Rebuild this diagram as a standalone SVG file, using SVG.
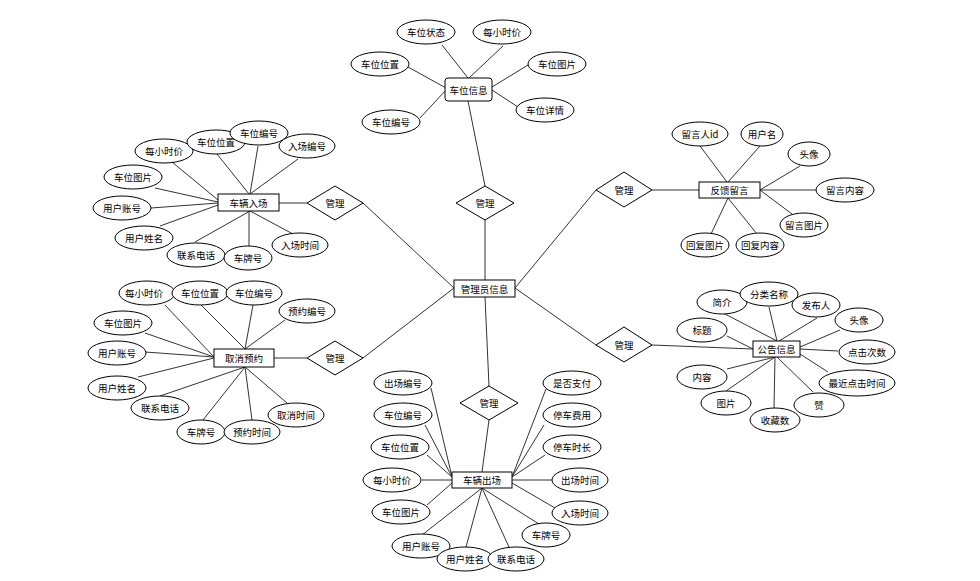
<svg xmlns="http://www.w3.org/2000/svg" width="980" height="581" viewBox="0 0 980 581">
<style>
.c line{stroke:#333;stroke-width:1}
ellipse{fill:#fff;stroke:#000;stroke-width:1}
.n rect{fill:#fff;stroke:#000;stroke-width:1}
polygon{fill:#fff;stroke:#000;stroke-width:1}
text{font-family:"Noto Sans CJK SC","Noto Sans",sans-serif;font-size:9.5px;fill:#000;text-anchor:middle;dominant-baseline:central}
</style>
<rect x="0" y="0" width="980" height="581" style="fill:#fff;stroke:none"/>
<g class="c" id="connectors">
<line x1="442" y1="45" x2="468" y2="78"/>
<line x1="503" y1="46" x2="469" y2="78"/>
<line x1="408" y1="67" x2="446" y2="88"/>
<line x1="528" y1="65" x2="492" y2="87"/>
<line x1="420" y1="118" x2="446" y2="90"/>
<line x1="518" y1="107" x2="492" y2="90"/>
<line x1="468" y1="101" x2="485" y2="186"/>
<line x1="485" y1="220" x2="485" y2="280"/>
<line x1="485" y1="297" x2="489" y2="386"/>
<line x1="363" y1="203" x2="454" y2="288"/>
<line x1="363" y1="358" x2="454" y2="288"/>
<line x1="596" y1="190" x2="515" y2="288"/>
<line x1="596" y1="345" x2="515" y2="288"/>
<line x1="652" y1="190" x2="699" y2="190"/>
<line x1="700" y1="146" x2="727" y2="182"/>
<line x1="760" y1="146" x2="728" y2="182"/>
<line x1="800" y1="166" x2="760" y2="190"/>
<line x1="816" y1="190" x2="760" y2="190"/>
<line x1="792" y1="214" x2="760" y2="190"/>
<line x1="711" y1="234" x2="728" y2="198"/>
<line x1="757" y1="234" x2="728" y2="198"/>
<line x1="652" y1="345" x2="753" y2="349"/>
<line x1="723" y1="313" x2="777" y2="341"/>
<line x1="769" y1="307" x2="777" y2="341"/>
<line x1="817" y1="318" x2="779" y2="341"/>
<line x1="840" y1="330" x2="800" y2="347"/>
<line x1="838" y1="351" x2="800" y2="349"/>
<line x1="828" y1="372" x2="800" y2="354"/>
<line x1="813" y1="392" x2="777" y2="357"/>
<line x1="774" y1="408" x2="775" y2="357"/>
<line x1="726" y1="391" x2="775" y2="357"/>
<line x1="727" y1="369" x2="775" y2="357"/>
<line x1="727" y1="336" x2="753" y2="349"/>
<line x1="279" y1="203" x2="307" y2="203"/>
<line x1="172" y1="162" x2="218" y2="200"/>
<line x1="217" y1="154" x2="249" y2="194"/>
<line x1="258" y1="146" x2="250" y2="194"/>
<line x1="298" y1="159" x2="250" y2="194"/>
<line x1="155" y1="188" x2="218" y2="202"/>
<line x1="151" y1="208" x2="218" y2="203"/>
<line x1="160" y1="226" x2="218" y2="205"/>
<line x1="195" y1="242" x2="250" y2="211"/>
<line x1="249" y1="246" x2="249" y2="211"/>
<line x1="293" y1="234" x2="250" y2="211"/>
<line x1="274" y1="358" x2="307" y2="358"/>
<line x1="165" y1="305" x2="214" y2="357"/>
<line x1="201" y1="305" x2="245" y2="349"/>
<line x1="253" y1="305" x2="245" y2="349"/>
<line x1="285" y1="320" x2="245" y2="349"/>
<line x1="145" y1="333" x2="214" y2="357"/>
<line x1="145" y1="352" x2="214" y2="357"/>
<line x1="138" y1="377" x2="214" y2="358"/>
<line x1="160" y1="396" x2="245" y2="367"/>
<line x1="203" y1="420" x2="245" y2="367"/>
<line x1="252" y1="420" x2="245" y2="367"/>
<line x1="287" y1="403" x2="245" y2="367"/>
<line x1="489" y1="420" x2="482" y2="472"/>
<line x1="431" y1="388" x2="452" y2="477"/>
<line x1="425" y1="425" x2="452" y2="477"/>
<line x1="427" y1="455" x2="452" y2="477"/>
<line x1="422" y1="480" x2="452" y2="480"/>
<line x1="427" y1="505" x2="452" y2="483"/>
<line x1="422" y1="535" x2="482" y2="488"/>
<line x1="466" y1="547" x2="482" y2="488"/>
<line x1="509" y1="547" x2="482" y2="488"/>
<line x1="539" y1="524" x2="482" y2="488"/>
<line x1="555" y1="508" x2="512" y2="483"/>
<line x1="552" y1="480" x2="512" y2="480"/>
<line x1="545" y1="455" x2="512" y2="477"/>
<line x1="544" y1="425" x2="512" y2="477"/>
<line x1="546" y1="389" x2="512" y2="477"/>
</g>

<g id="manager" class="n">
<rect x="454" y="280" width="61" height="17"/>
<text x="484.5" y="288.5">管理员信息</text>
</g>

<g id="rel-top"><polygon points="485,186 514,203 485,220 456,203"/><text x="485" y="203">管理</text></g>
<g id="rel-bottom"><polygon points="489,386 518,403 489,420 460,403"/><text x="489" y="403">管理</text></g>
<g id="rel-entry"><polygon points="335,186 363,203 335,220 307,203"/><text x="335" y="203">管理</text></g>
<g id="rel-cancel"><polygon points="335,341 363,358 335,375 307,358"/><text x="335" y="358">管理</text></g>
<g id="rel-feedback"><polygon points="624,172 652,190 624,207 596,190"/><text x="624" y="190">管理</text></g>
<g id="rel-notice"><polygon points="624,327 652,345 624,362 596,345"/><text x="624" y="345">管理</text></g>

<g id="space" class="n">
<rect x="445" y="78" width="47" height="23" rx="3"/>
<text x="468.5" y="89.5">车位信息</text>
<ellipse cx="426" cy="32" rx="29" ry="12"/><text x="426" y="32">车位状态</text>
<ellipse cx="502" cy="32" rx="29" ry="12"/><text x="502" y="32">每小时价</text>
<ellipse cx="380" cy="64" rx="29" ry="12"/><text x="380" y="64">车位位置</text>
<ellipse cx="557" cy="64" rx="29" ry="12"/><text x="557" y="64">车位图片</text>
<ellipse cx="391" cy="122" rx="29" ry="12"/><text x="391" y="122">车位编号</text>
<ellipse cx="545" cy="110" rx="29" ry="12"/><text x="545" y="110">车位详情</text>
</g>

<g id="feedback" class="n">
<rect x="699" y="182" width="61" height="16"/>
<text x="729.5" y="190">反馈留言</text>
<ellipse cx="700" cy="134" rx="28" ry="12"/><text x="700" y="134">留言人id</text>
<ellipse cx="762" cy="134" rx="21" ry="12"/><text x="762" y="134">用户名</text>
<ellipse cx="809" cy="154" rx="21" ry="12"/><text x="809" y="154">头像</text>
<ellipse cx="845" cy="190" rx="29" ry="12"/><text x="845" y="190">留言内容</text>
<ellipse cx="804" cy="225" rx="24" ry="12"/><text x="804" y="225">留言图片</text>
<ellipse cx="705" cy="245" rx="24" ry="12"/><text x="705" y="245">回复图片</text>
<ellipse cx="760" cy="245" rx="24" ry="12"/><text x="760" y="245">回复内容</text>
</g>

<g id="notice" class="n">
<rect x="753" y="341" width="47" height="16"/>
<text x="776.5" y="349">公告信息</text>
<ellipse cx="722" cy="302" rx="25" ry="12"/><text x="722" y="302">简介</text>
<ellipse cx="769" cy="294" rx="29" ry="12"/><text x="769" y="294">分类名称</text>
<ellipse cx="816" cy="305" rx="24" ry="12"/><text x="816" y="305">发布人</text>
<ellipse cx="859" cy="320" rx="24" ry="12"/><text x="859" y="320">头像</text>
<ellipse cx="867" cy="352" rx="28" ry="12"/><text x="867" y="352">点击次数</text>
<ellipse cx="857" cy="383" rx="38" ry="13"/><text x="857" y="383">最近点击时间</text>
<ellipse cx="819" cy="405" rx="25" ry="12"/><text x="819" y="405">赞</text>
<ellipse cx="775" cy="420" rx="25" ry="12"/><text x="775" y="420">收藏数</text>
<ellipse cx="726" cy="403" rx="25" ry="12"/><text x="726" y="403">图片</text>
<ellipse cx="702" cy="377" rx="25" ry="12"/><text x="702" y="377">内容</text>
<ellipse cx="702" cy="330" rx="25" ry="12"/><text x="702" y="330">标题</text>
</g>

<g id="entry" class="n">
<rect x="218" y="194" width="61" height="17"/>
<text x="248.5" y="202.5">车辆入场</text>
<ellipse cx="164" cy="151" rx="29" ry="12"/><text x="164" y="151">每小时价</text>
<ellipse cx="216" cy="142" rx="29" ry="12"/><text x="216" y="142">车位位置</text>
<ellipse cx="259" cy="133" rx="29" ry="12"/><text x="259" y="133">车位编号</text>
<ellipse cx="307" cy="146" rx="28" ry="12"/><text x="307" y="146">入场编号</text>
<ellipse cx="133" cy="177" rx="29" ry="12"/><text x="133" y="177">车位图片</text>
<ellipse cx="122" cy="208" rx="29" ry="12"/><text x="122" y="208">用户账号</text>
<ellipse cx="144" cy="238" rx="29" ry="12"/><text x="144" y="238">用户姓名</text>
<ellipse cx="196" cy="255" rx="29" ry="12"/><text x="196" y="255">联系电话</text>
<ellipse cx="248" cy="258" rx="24" ry="12"/><text x="248" y="258">车牌号</text>
<ellipse cx="300" cy="245" rx="28" ry="12"/><text x="300" y="245">入场时间</text>
</g>

<g id="cancel" class="n">
<rect x="214" y="349" width="60" height="18"/>
<text x="244" y="358">取消预约</text>
<ellipse cx="147" cy="293" rx="28" ry="12"/><text x="144" y="293">每小时价</text>
<ellipse cx="200" cy="293" rx="28" ry="12"/><text x="200" y="293">车位位置</text>
<ellipse cx="254" cy="293" rx="28" ry="12"/><text x="254" y="293">车位编号</text>
<ellipse cx="307" cy="311" rx="28" ry="12"/><text x="307" y="311">预约编号</text>
<ellipse cx="123" cy="323" rx="29" ry="12"/><text x="123" y="323">车位图片</text>
<ellipse cx="117" cy="353" rx="29" ry="12"/><text x="117" y="353">用户账号</text>
<ellipse cx="117" cy="388" rx="29" ry="12"/><text x="117" y="388">用户姓名</text>
<ellipse cx="160" cy="408" rx="29" ry="12"/><text x="160" y="408">联系电话</text>
<ellipse cx="201" cy="432" rx="24" ry="12"/><text x="201" y="432">车牌号</text>
<ellipse cx="252" cy="432" rx="28" ry="12"/><text x="252" y="432">预约时间</text>
<ellipse cx="296" cy="415" rx="28" ry="12"/><text x="296" y="415">取消时间</text>
</g>

<g id="exit" class="n">
<rect x="452" y="472" width="60" height="16"/>
<text x="482" y="480">车辆出场</text>
<ellipse cx="403" cy="383" rx="29" ry="12"/><text x="403" y="383">出场编号</text>
<ellipse cx="403" cy="415" rx="29" ry="12"/><text x="403" y="415">车位编号</text>
<ellipse cx="400" cy="447" rx="29" ry="12"/><text x="400" y="447">车位位置</text>
<ellipse cx="392" cy="480" rx="29" ry="12"/><text x="392" y="480">每小时价</text>
<ellipse cx="401" cy="512" rx="29" ry="12"/><text x="401" y="512">车位图片</text>
<ellipse cx="421" cy="546" rx="29" ry="12"/><text x="421" y="546">用户账号</text>
<ellipse cx="465" cy="559" rx="28" ry="12"/><text x="465" y="559">用户姓名</text>
<ellipse cx="516" cy="559" rx="28" ry="12"/><text x="516" y="559">联系电话</text>
<ellipse cx="546" cy="535" rx="24" ry="12"/><text x="546" y="535">车牌号</text>
<ellipse cx="580" cy="513" rx="28" ry="12"/><text x="580" y="513">入场时间</text>
<ellipse cx="580" cy="480" rx="28" ry="12"/><text x="580" y="480">出场时间</text>
<ellipse cx="572" cy="447" rx="29" ry="12"/><text x="572" y="447">停车时长</text>
<ellipse cx="572" cy="415" rx="29" ry="12"/><text x="572" y="415">停车费用</text>
<ellipse cx="572" cy="383" rx="29" ry="12"/><text x="572" y="383">是否支付</text>
</g>
</svg>
